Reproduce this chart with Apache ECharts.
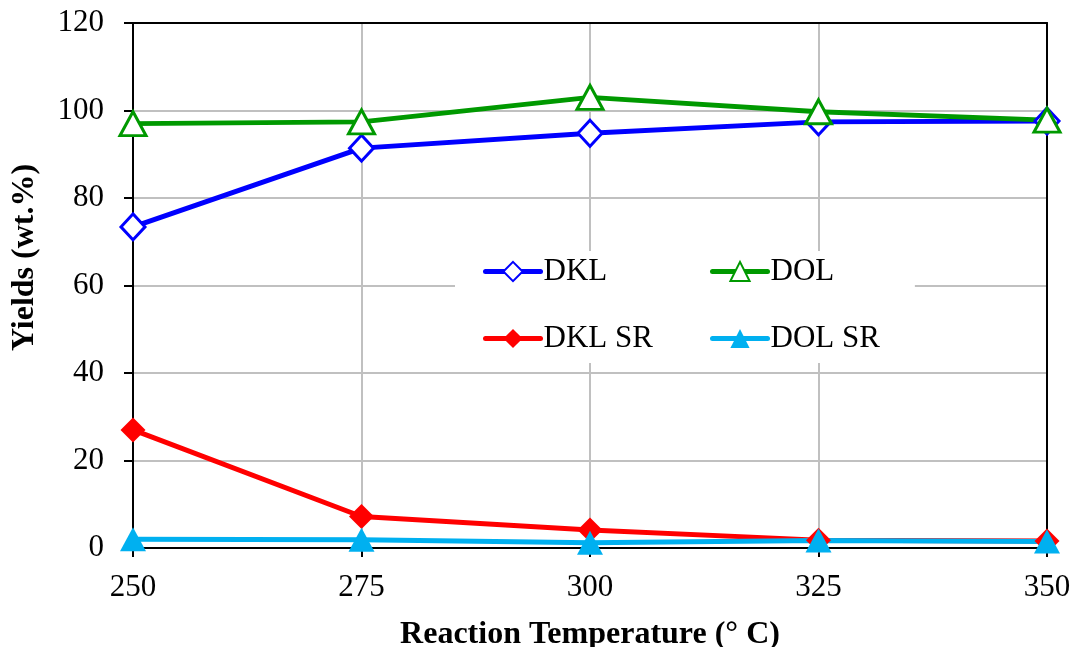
<!DOCTYPE html>
<html>
<head>
<meta charset="utf-8">
<style>
  html, body { margin: 0; padding: 0; background: #ffffff; }
  #chart { width: 1073px; height: 647px; }
</style>
<script src="https://cdn.jsdelivr.net/npm/echarts@6/dist/echarts.min.js"></script>
</head>
<body>
<div id="chart"></div>
<script>
// Reaction temperatures (°C)
const temperatures = [250, 275, 300, 325, 350];
// Yields (wt.%)
const dkl   = [73.4, 91.4, 94.8, 97.4, 97.6];
const dol   = [97.0, 97.4, 103.0, 99.7, 97.8];
const dklSR = [27.0, 7.2, 4.1, 1.8, 1.6];
const dolSR = [2.0, 1.9, 1.2, 1.7, 1.5];
// Axis tick settings
const xTicks = { min: 250, max: 350, interval: 25 };
const yTicks = { min: 0, max: 120, interval: 20 };

const FONT = '"Liberation Serif", "Times New Roman", serif';
const LINE_W = 5;

function pairs(values) {
  return temperatures.map((t, i) => [t, values[i]]);
}

function lineSeries(name, values, color, symbol, size, hollow) {
  return {
    name: name,
    type: 'line',
    data: pairs(values),
    symbol: symbol,
    symbolSize: size,
    showAllSymbol: true,
    lineStyle: { color: color, width: LINE_W },
    itemStyle: hollow
      ? { color: '#ffffff', borderColor: color, borderWidth: 3 }
      : { color: color, borderColor: color, borderWidth: 0 },
    emphasis: { disabled: true },
    z: 3
  };
}

const legendCommon = {
  orient: 'vertical',
  itemWidth: 55, itemHeight: 24, itemGap: 36,
  lineStyle: { width: LINE_W, cap: 'round' },
  textStyle: { fontFamily: FONT, fontSize: 31, color: '#000000', padding: [0, 0, 0, -2] }
};

const chart = echarts.init(document.getElementById('chart'), null, { renderer: 'canvas' });

chart.setOption({
  animation: false,
  backgroundColor: '#ffffff',
  grid: { left: 133, right: 26, top: 23, bottom: 99, containLabel: false, outerBoundsMode: 'none' },
  legend: [
    Object.assign({}, legendCommon, {
      data: ['DKL', 'DKL SR'],
      left: 455, top: 251,
      padding: [5, 262, 9, 28],
      backgroundColor: '#ffffff',
      z: 4
    }),
    Object.assign({}, legendCommon, {
      data: ['DOL', 'DOL SR'],
      left: 710, top: 256,
      padding: 0,
      z: 5
    })
  ],
  xAxis: [
    {
      type: 'value',
      min: xTicks.min, max: xTicks.max, interval: xTicks.interval,
      name: 'Reaction Temperature (° C)',
      nameLocation: 'middle',
      nameGap: 71,
      nameTextStyle: { fontFamily: FONT, fontSize: 32, fontWeight: 'bold', color: '#000000' },
      axisLine: { show: true, lineStyle: { color: '#000000', width: 2 } },
      axisTick: { show: true, inside: false, length: 9, lineStyle: { color: '#000000', width: 2 } },
      axisLabel: { fontFamily: FONT, fontSize: 31, color: '#000000', margin: 24 },
      splitLine: { show: true, lineStyle: { color: '#c0c0c0', width: 2 } }
    },
    {
      // top frame line
      type: 'value', position: 'top',
      min: xTicks.min, max: xTicks.max, interval: xTicks.interval,
      axisLine: { show: true, onZero: false, lineStyle: { color: '#000000', width: 2 } },
      axisTick: { show: false }, axisLabel: { show: false }, splitLine: { show: false }
    }
  ],
  yAxis: [
    {
      type: 'value',
      min: yTicks.min, max: yTicks.max, interval: yTicks.interval,
      name: 'Yields (wt.%)',
      nameLocation: 'middle',
      nameGap: 92,
      nameRotate: 90,
      nameTextStyle: {
        fontFamily: FONT, fontSize: 32, fontWeight: 'bold', color: '#000000',
        padding: [0, 0, 0, 56]
      },
      axisLine: { show: true, lineStyle: { color: '#000000', width: 2 } },
      axisTick: { show: true, inside: false, length: 9, lineStyle: { color: '#000000', width: 2 } },
      axisLabel: { fontFamily: FONT, fontSize: 31, color: '#000000', margin: 29 },
      splitLine: { show: true, lineStyle: { color: '#c0c0c0', width: 2 } }
    },
    {
      // right frame line
      type: 'value', position: 'right',
      min: yTicks.min, max: yTicks.max, interval: yTicks.interval,
      axisLine: { show: true, onZero: false, lineStyle: { color: '#000000', width: 2 } },
      axisTick: { show: false }, axisLabel: { show: false }, splitLine: { show: false }
    }
  ],
  series: [
    lineSeries('DKL', dkl, '#0000ff', 'diamond', [24, 26], true),
    lineSeries('DOL', dol, '#009900', 'triangle', [26, 24], true),
    lineSeries('DKL SR', dklSR, '#ff0000', 'diamond', [25, 25], false),
    lineSeries('DOL SR', dolSR, '#00b0f0', 'triangle', [26, 24], false)
  ]
});
</script>
</body>
</html>
